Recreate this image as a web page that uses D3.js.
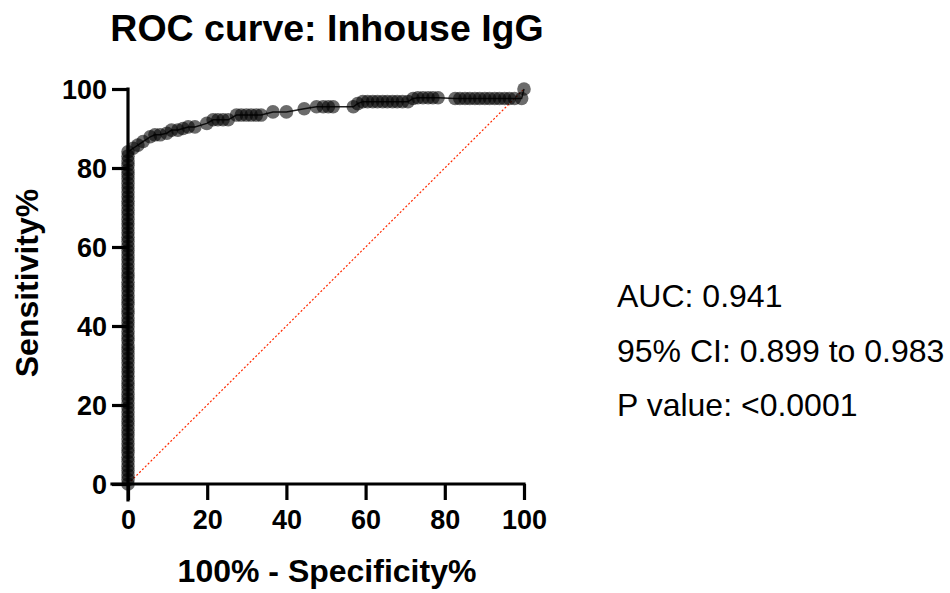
<!DOCTYPE html>
<html>
<head>
<meta charset="utf-8">
<script src="https://cdn.jsdelivr.net/npm/d3@7"></script>
<style>
  body { margin: 0; background: #fff; }
  svg text { font-family: "Liberation Sans", Arial, Helvetica, sans-serif; }
</style>
</head>
<body>
<div id="chart"></div>
<script>
//////////////////////////// data /////////////////////////////////////////

// points stacked on the y axis (100% - specificity = 0)
const columnSens = [0, 1.1, 2.3, 3.4, 4.5, 5.7, 6.8, 8.0, 9.1, 10.2, 11.4, 12.5,
  13.6, 14.8, 15.9, 17.0, 18.2, 19.3, 20.5, 21.6, 22.7, 23.9, 25.0, 26.1, 27.3,
  28.4, 29.5, 30.7, 31.8, 33.0, 34.1, 35.2, 36.4, 37.5, 38.6, 39.8, 40.9, 42.0,
  43.2, 44.3, 45.5, 46.6, 47.7, 48.9, 50.0, 51.1, 52.3, 53.4, 54.5, 55.7, 56.8,
  58.0, 59.1, 60.2, 61.4, 62.5, 63.6, 64.8, 65.9, 67.0, 68.2, 69.3, 70.5, 71.6,
  72.7, 73.9, 75.0, 76.1, 77.3, 78.4, 79.5, 80.7, 81.8, 83.0, 84.1];

// the bend and the flat part of the curve
const curveFpr = [1.3, 2.5, 3.8, 5.6, 6.8, 8.1, 9.8, 11.0, 12.6, 13.9, 15.2, 16.9,
  19.9, 21.5, 22.7, 24.0, 25.3, 27.4, 28.6, 29.9, 31.1, 32.4, 33.6, 36.6, 40.0,
  44.5, 47.6, 49.3, 50.6, 51.8, 56.9, 58.0, 59.3, 60.5, 61.8, 63.0, 64.3, 65.5,
  66.8, 68.0, 69.3, 70.7, 72.0, 73.2, 74.5, 75.8, 77.0, 78.3, 82.6, 83.8, 85.1,
  86.3, 87.6, 88.8, 90.1, 91.3, 92.6, 93.8, 95.1, 96.3, 97.6, 99.4, 100];
const curveSens = [85.0, 85.8, 86.7, 87.9, 88.4, 88.4, 88.8, 89.6, 89.6, 90.0, 90.4, 90.4,
  91.3, 92.2, 92.2, 92.2, 92.2, 93.4, 93.4, 93.4, 93.4, 93.4, 93.4, 94.2, 94.2,
  95.0, 95.5, 95.5, 95.5, 95.5, 95.5, 96.3, 96.8, 96.8, 96.8, 96.8, 96.8, 96.8,
  96.8, 96.8, 96.8, 96.8, 97.6, 97.8, 97.8, 97.8, 97.8, 97.8, 97.6, 97.6, 97.6,
  97.6, 97.6, 97.6, 97.6, 97.6, 97.6, 97.6, 97.6, 97.6, 97.6, 97.6, 100];

const xTicks = [0, 20, 40, 60, 80, 100];
const yTicks = [0, 20, 40, 60, 80, 100];
const statLines = ["AUC: 0.941", "95% CI: 0.899 to 0.983", "P value: <0.0001"];

//////////////////////////// build points /////////////////////////////////

const points = columnSens.map((s) => ({ fpr: 0, sens: s }))
  .concat(curveFpr.map((f, i) => ({ fpr: f, sens: curveSens[i] })));

//////////////////////////// svg //////////////////////////////////////////

const width = 950;
const height = 593;

const svg = d3.select("#chart").append("svg")
  .attr("width", width)
  .attr("height", height);

const xScale = d3.scaleLinear().domain([0, 100]).range([128, 524]);
const yScale = d3.scaleLinear().domain([0, 100]).range([484, 89]);

//////////////////////////// reference diagonal ///////////////////////////

svg.append("line")
  .attr("x1", xScale(0)).attr("y1", yScale(0))
  .attr("x2", xScale(100)).attr("y2", yScale(100))
  .attr("stroke", "#ff2a00")
  .attr("stroke-width", 1.2)
  .attr("stroke-dasharray", "2,2");

//////////////////////////// curve ////////////////////////////////////////

const line = d3.line().x((d) => xScale(d.fpr)).y((d) => yScale(d.sens));

svg.append("path")
  .datum(points)
  .attr("d", line)
  .attr("fill", "none")
  .attr("stroke", "#222")
  .attr("stroke-width", 1.5);

svg.selectAll("circle.pt")
  .data(points)
  .enter()
  .append("circle")
  .attr("class", "pt")
  .attr("cx", (d) => xScale(d.fpr))
  .attr("cy", (d) => yScale(d.sens))
  .attr("r", 6.8)
  .attr("fill", "#000")
  .attr("fill-opacity", 0.58);

//////////////////////////// axes /////////////////////////////////////////

const xAxis = svg.append("g")
  .attr("transform", `translate(0,${yScale(0)})`)
  .call(d3.axisBottom(xScale).tickValues(xTicks).tickSize(16).tickPadding(10));

const yAxis = svg.append("g")
  .attr("transform", `translate(${xScale(0)},0)`)
  .call(d3.axisLeft(yScale).tickValues(yTicks).tickSize(16).tickPadding(5));

[xAxis, yAxis].forEach((ax) => {
  ax.select(".domain").attr("stroke", "#000").attr("stroke-width", 3.2)
    .attr("stroke-linecap", "square");
  ax.selectAll(".tick line").attr("stroke", "#000").attr("stroke-width", 3.2);
  ax.selectAll(".tick text")
    .attr("fill", "#000")
    .style("font-size", "27px")
    .style("font-weight", "bold")
    .style("font-family", "'Liberation Sans', Arial, sans-serif");
});
// GraphPad style: extend axis lines through the 0 ticks
xAxis.select(".domain").attr("d", `M${xScale(0) - 16},0H${xScale(100)}`);
yAxis.select(".domain").attr("d", `M0,${yScale(0) + 16}V${yScale(100)}`);
yAxis.selectAll(".tick text").attr("dy", "0.36em");

//////////////////////////// titles ///////////////////////////////////////

svg.append("text")
  .attr("x", 327).attr("y", 41)
  .attr("text-anchor", "middle")
  .style("font-size", "37.5px")
  .style("font-weight", "bold")
  .text("ROC curve: Inhouse IgG");

svg.append("text")
  .attr("x", 327).attr("y", 582)
  .attr("text-anchor", "middle")
  .style("font-size", "32px")
  .style("font-weight", "bold")
  .text("100% - Specificity%");

svg.append("text")
  .attr("transform", "translate(38,283) rotate(-90)")
  .attr("text-anchor", "middle")
  .style("font-size", "32px")
  .style("font-weight", "bold")
  .text("Sensitivity%");

svg.selectAll("text.stat")
  .data(statLines)
  .enter()
  .append("text")
  .attr("class", "stat")
  .attr("x", 617)
  .attr("y", (d, i) => 307 + i * 54.5)
  .style("font-size", "32px")
  .attr("fill", "#000")
  .text((d) => d);
</script>
</body>
</html>
